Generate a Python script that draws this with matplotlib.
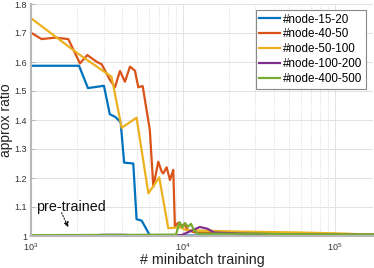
import matplotlib
matplotlib.use("Agg")
import matplotlib.pyplot as plt
from matplotlib.ticker import FixedLocator, LogLocator, NullFormatter

plt.rcParams['font.family'] = ['Liberation Sans', 'DejaVu Sans']

labels = ['#node-15-20', '#node-40-50', '#node-50-100', '#node-100-200', '#node-400-500']
colors = ['#0072BD', '#D95319', '#EDB120', '#7E2F8E', '#77AC30']

x_15_20 = [1000, 2070, 2370, 3020, 3300, 3600, 3890, 4100, 4710, 4950, 5350, 6050, 8000, 20000, 60000, 178000]
y_15_20 = [1.587, 1.587, 1.510, 1.518, 1.420, 1.410, 1.392, 1.253, 1.250, 1.058, 1.053, 1.002, 1.002, 1.001, 1.001, 1.001]

x_40_50 = [1000, 1175, 1440, 1760, 2100, 2345, 2700, 2920, 3310, 3570, 3850, 4150, 4480, 4830, 5080, 5430,
           6050, 6380, 6880, 7240, 7420, 7810, 8210, 8630, 8850, 9250, 9700, 10200, 10800, 12000, 20000, 60000, 178000]
y_40_50 = [1.701, 1.679, 1.684, 1.679, 1.595, 1.624, 1.601, 1.592, 1.538, 1.513, 1.569, 1.532, 1.584, 1.570, 1.513, 1.517,
           1.366, 1.170, 1.256, 1.222, 1.216, 1.237, 1.193, 1.228, 1.032, 1.045, 1.035, 1.040, 1.020, 1.012, 1.010, 1.008, 1.005]

x_50_100 = [1000, 2050, 3390, 3950, 4950, 5920, 6980, 8000, 9550, 10500, 14000, 25000, 60000, 120000, 178000]
y_50_100 = [1.751, 1.628, 1.549, 1.373, 1.408, 1.147, 1.202, 1.027, 1.030, 1.020, 1.018, 1.015, 1.012, 1.008, 1.004]

x_100_200 = [1000, 2400, 3000, 4000, 5000, 8000, 9800, 11000, 12900, 14500, 16000, 25000, 60000, 178000]
y_100_200 = [1.002, 1.002, 1.004, 1.004, 1.002, 1.002, 1.003, 1.015, 1.031, 1.025, 1.012, 1.008, 1.005, 1.004]

x_400_500 = [1000, 5000, 9000, 9500, 9900, 10300, 10800, 11300, 11800, 12500, 14000, 30000, 60000, 178000]
y_400_500 = [1.003, 1.004, 1.005, 1.048, 1.030, 1.045, 1.032, 1.042, 1.020, 1.008, 1.008, 1.008, 1.006, 1.005]

series = [(x_15_20, y_15_20), (x_40_50, y_40_50), (x_50_100, y_50_100),
          (x_100_200, y_100_200), (x_400_500, y_400_500)]

yticks = [1, 1.1, 1.2, 1.3, 1.4, 1.5, 1.6, 1.7, 1.8]
ytick_labels = ['1', '1.1', '1.2', '1.3', '1.4', '1.5', '1.6', '1.7', '1.8']

fig = plt.figure(figsize=(3.74, 2.68), dpi=100)
ax = fig.add_axes([31 / 374, 32 / 268, 342 / 374, 232 / 268])

for (xs, ys), lab, c in zip(series, labels, colors):
    ax.plot(xs, ys, color=c, lw=1.6, label=lab, clip_on=False)

ax.set_xscale('log')
ax.set_xlim(1000, 178000)
ax.set_ylim(1, 1.8)
ax.yaxis.set_major_locator(FixedLocator(yticks))
ax.set_yticklabels(ytick_labels)
ax.xaxis.set_major_locator(LogLocator(base=10))
ax.xaxis.set_minor_locator(LogLocator(base=10, subs=range(2, 10)))
ax.xaxis.set_minor_formatter(NullFormatter())

ax.grid(True, which='major', color='#e2e2e2', lw=0.7, ls='-')
ax.grid(True, which='minor', axis='x', color='#d4d4d4', lw=0.6, ls=':')
ax.set_axisbelow(True)

for s in ['top', 'right']:
    ax.spines[s].set_visible(False)
for s in ['left', 'bottom']:
    ax.spines[s].set_color('#b8b8b8')
    ax.spines[s].set_linewidth(1.5)

ax.tick_params(which='both', direction='in', colors='#b8b8b8', labelcolor='#333333', labelsize=6.5)
ax.tick_params(which='minor', length=0)
ax.tick_params(which='major', length=3)
ax.tick_params(axis='x', pad=3.5)
ax.tick_params(axis='y', pad=3)

ax.set_xlabel('# minibatch training', fontsize=10.3, color='#222222', labelpad=0)
ax.set_ylabel('approx ratio', fontsize=10, color='#222222')
ax.yaxis.set_label_coords(-0.052, 0.5)

ax.text(1080, 1.1, 'pre-trained', fontsize=10.3, va='center', ha='left', color='#111111')
ax.annotate('', xy=(1760, 1.03), xytext=(1590, 1.08),
            arrowprops=dict(arrowstyle='-|>', color='#111111', lw=0.8, ls=':',
                            mutation_scale=7, shrinkA=0, shrinkB=0))

leg = ax.legend(loc='upper right', bbox_to_anchor=(0.98, 0.974), borderaxespad=0,
                fontsize=8.4, handlelength=1.8, handletextpad=0.25, labelspacing=0.25,
                fancybox=False, framealpha=1, edgecolor='#888888', borderpad=0.3)
leg.get_frame().set_linewidth(0.8)

fig.savefig('out.png', dpi=100)
